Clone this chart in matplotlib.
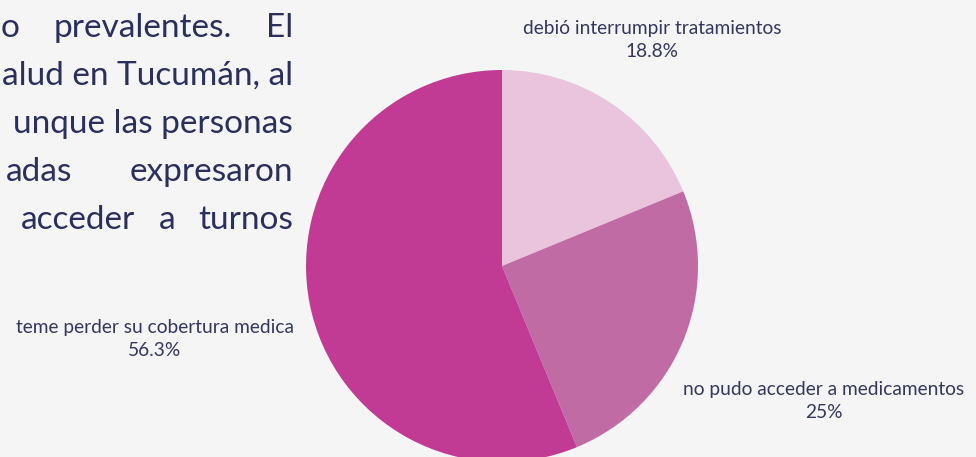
import matplotlib.pyplot as plt

# datos del grafico
categorias = ['debió interrumpir tratamientos', 'no pudo acceder a medicamentos',
              'teme perder su cobertura medica']
porcentajes = [18.8, 25.0, 56.3]
etiquetas_pct = ['18.8%', '25%', '56.3%']
colores = ['#EAC4DD', '#C16BA4', '#C13B95']

# texto del parrafo (recortado a la izquierda en la imagen)
lineas_parrafo = [
    ['o', 'prevalentes.', 'El'],
    ['alud en Tucumán, al'],
    ['unque las personas'],
    ['adas', 'expresaron'],
    ['acceder', 'a', 'turnos'],
]

W, H = 976, 457
fondo = '#F5F5F5'
azul = '#2B2F5E'

fig = plt.figure(figsize=(W / 100, H / 100), dpi=100, facecolor=fondo)

# pie: centro (502, 266) px, radio 196 px
cx, cy, r = 502, 266, 196
ax = fig.add_axes([(cx - r) / W, (H - cy - r) / H, 2 * r / W, 2 * r / H])
ax.set_facecolor(fondo)
ax.pie(porcentajes, colors=colores, startangle=90, counterclock=False,
       wedgeprops=dict(linewidth=0))
ax.set_aspect('equal')
ax.set_xlim(-1, 1)
ax.set_ylim(-1, 1)
ax.axis('off')

# etiquetas (posicion en px de la figura)
pos_etiquetas = [(652, 40), (824, 401), (155, 339)]
for cat, pct, (x, y) in zip(categorias, etiquetas_pct, pos_etiquetas):
    fig.text(x / W, 1 - y / H, cat + '\n' + pct, ha='center', va='center',
             fontsize=13.8, color='#34375F', family='Lato', linespacing=1.45)

# parrafo justificado: borde derecho de cada palabra en px
bordes = [
    [20, 232, 293],
    [293],
    [293],
    [72, 293],
    [135, 175, 293],
]
ys = [28, 76, 124, 172, 220]
for palabras, xs, y in zip(lineas_parrafo, bordes, ys):
    for p, x in zip(palabras, xs):
        fig.text(x / W, 1 - y / H, p, ha='right', va='center',
                 fontsize=24, color=azul, family='Lato')

fig.savefig('out.png', dpi=100, facecolor=fondo)
